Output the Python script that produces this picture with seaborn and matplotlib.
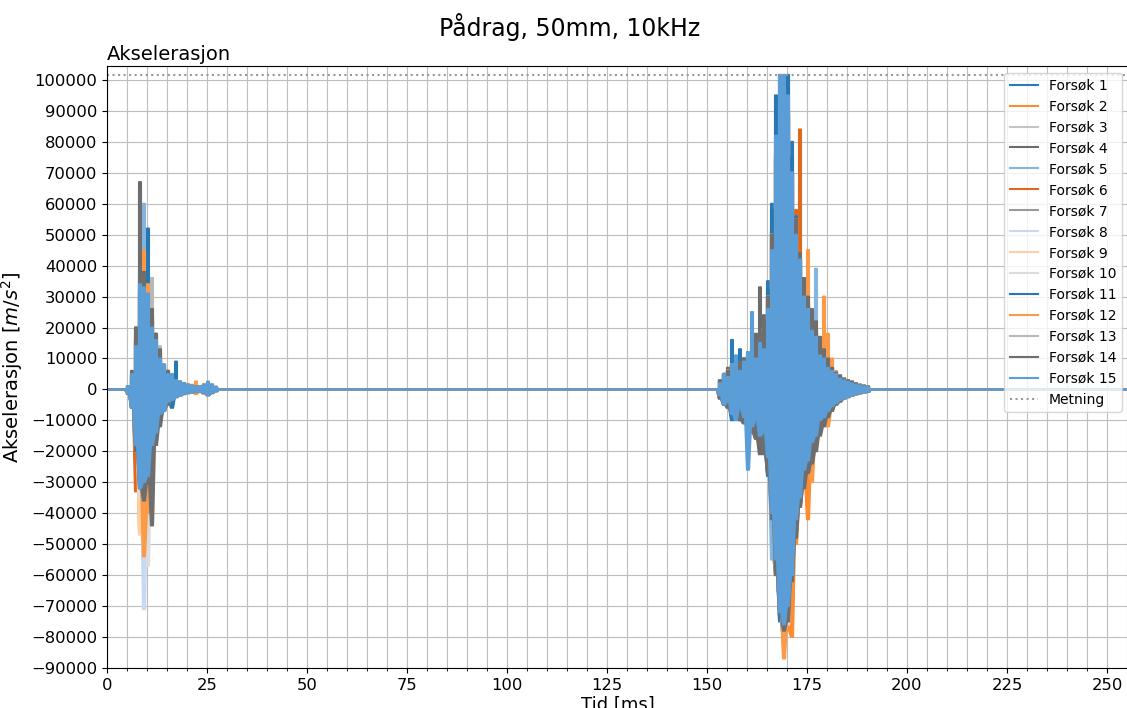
import numpy as np
import pandas as pd
import matplotlib
matplotlib.use("Agg")
import matplotlib.pyplot as plt
from matplotlib.ticker import MultipleLocator
import seaborn as sns

# Acceleration envelopes per 1 ms window, in units of 1000 m/s^2.
# "topp" = largest positive excursion, "bunn" = largest negative excursion.
tid_a = [5, 6, 7, 8, 9, 10, 11, 12, 13, 14, 15, 16, 17, 18, 19, 20, 21, 22, 23, 24, 25, 26, 27]
tid_b = list(range(153, 191))

metning = 101.6  # sensor saturation level (1000 m/s^2)

forsok_01_a_topp = [1, 5, 18, 37, 30, 26, 18, 13, 9, 7, 5, 4, 3, 2, 2, 1.5, 1, 1, 1, 1.5, 2, 1.5, 0.8]
forsok_01_a_bunn = [-1, -6, -24, -25, -30, -22, -17, -11, -8, -6, -4, -3, -2.5, -2, -1.5, -1, -1, -0.8, -0.8, -1, -1.8, -1, -0.5]
forsok_02_a_topp = [1, 4, 14, 32, 38, 30, 22, 16, 11, 8, 6, 4, 3, 2.5, 2, 1.8, 1.5, 2.5, 1, 1.5, 2.2, 1.5, 0.8]
forsok_02_a_bunn = [-1, -5, -20, -46, -34, -28, -20, -13, -9, -6, -5, -3.5, -2.5, -2, -1.5, -1.2, -1, -1.5, -0.8, -1.2, -2, -1.2, -0.6]
forsok_03_a_topp = [1, 3, 12, 28, 40, 32, 22, 15, 10, 7, 5, 4, 3, 2.5, 2, 1.5, 1.2, 1, 1, 1.5, 2, 1.5, 0.8]
forsok_03_a_bunn = [-1, -4, -15, -30, -38, -30, -20, -13, -9, -6, -4, -3, -2.5, -2, -1.5, -1.2, -1, -0.8, -0.8, -1.2, -1.8, -1.2, -0.6]
forsok_04_a_topp = [1, 6, 20, 67, 40, 30, 24, 17, 12, 8, 6, 4, 3, 2.5, 2, 1.5, 1.2, 1, 1, 1.5, 2.2, 1.5, 0.8]
forsok_04_a_bunn = [-1.5, -6, -22, -30, -36, -28, -22, -15, -10, -7, -5, -3.5, -2.5, -2, -1.5, -1.2, -1, -0.8, -0.8, -1.2, -1.8, -1.2, -0.6]
forsok_05_a_topp = [1, 4, 16, 34, 60, 30, 20, 14, 10, 7, 5, 4, 3, 2.5, 2, 1.5, 1.2, 1, 1, 1.5, 2, 1.5, 0.8]
forsok_05_a_bunn = [-1, -5, -17, -30, -40, -28, -18, -12, -8, -6, -4, -3, -2.5, -2, -1.5, -1.2, -1, -0.8, -0.8, -1.2, -1.8, -1.2, -0.6]
forsok_06_a_topp = [1, 5, 17, 33, 36, 27, 19, 13, 9, 7, 5, 4, 3, 2.5, 2, 1.5, 1.2, 1, 1, 1.5, 2, 1.5, 0.8]
forsok_06_a_bunn = [-1, -6, -33, -30, -35, -26, -18, -12, -8, -6, -4, -3, -2.5, -2, -1.5, -1.2, -1, -0.8, -0.8, -1.2, -1.8, -1.2, -0.6]
forsok_07_a_topp = [1, 4, 14, 30, 38, 30, 22, 15, 10, 7, 5, 4, 3, 2.5, 2, 1.5, 1.2, 1, 1, 1.5, 2, 1.5, 0.8]
forsok_07_a_bunn = [-1, -5, -18, -32, -56, -32, -20, -13, -8, -6, -4, -3, -2.5, -2, -1.5, -1.2, -1, -0.8, -0.8, -1.2, -1.8, -1.2, -0.6]
forsok_08_a_topp = [1, 4, 15, 30, 36, 30, 21, 14, 10, 7, 5, 4, 3, 2.5, 2, 1.5, 1.2, 1, 1, 1.5, 2, 1.5, 0.8]
forsok_08_a_bunn = [-1, -5, -18, -30, -71, -30, -20, -13, -8, -6, -4, -3, -2.5, -2, -1.5, -1.2, -1, -0.8, -0.8, -1.2, -1.8, -1.2, -0.6]
forsok_09_a_topp = [1, 4, 15, 32, 40, 30, 20, 14, 10, 7, 5, 4, 3, 2.5, 2, 1.5, 1.2, 1, 1, 1.5, 2, 1.5, 0.8]
forsok_09_a_bunn = [-1, -5, -20, -47, -40, -28, -18, -12, -8, -6, -4, -3, -2.5, -2, -1.5, -1.2, -1, -0.8, -0.8, -1.2, -1.8, -1.2, -0.6]
forsok_10_a_topp = [1, 4, 15, 32, 42, 33, 22, 15, 10, 7, 5, 4, 3, 2.5, 2, 1.5, 1.2, 1, 1, 1.5, 2, 1.5, 0.8]
forsok_10_a_bunn = [-1, -5, -18, -35, -45, -57, -22, -14, -9, -6, -4, -3, -2.5, -2, -1.5, -1.2, -1, -0.8, -0.8, -1.2, -1.8, -1.2, -0.6]
forsok_11_a_topp = [1, 5, 16, 32, 36, 52, 22, 15, 10, 7, 5, 4, 9, 2.5, 2, 1.5, 1.2, 1, 1, 1.5, 2, 1.5, 0.8]
forsok_11_a_bunn = [-1, -5, -18, -30, -34, -26, -23, -12, -8, -6, -4, -6, -2.5, -2, -1.5, -1.2, -1, -0.8, -0.8, -1.2, -1.8, -1.2, -0.6]
forsok_12_a_topp = [1, 4, 16, 34, 45, 34, 24, 18, 13, 8, 6, 4, 3, 2.5, 2, 1.5, 1.2, 2.5, 1, 1.5, 2.5, 1.5, 0.8]
forsok_12_a_bunn = [-1, -5, -18, -32, -54, -40, -22, -14, -10, -7, -5, -3, -2.5, -2, -1.5, -1.2, -1, -0.8, -0.8, -1.5, -2, -1.2, -0.6]
forsok_13_a_topp = [1, 4, 14, 30, 34, 30, 36, 18, 14, 8, 6, 4, 3, 2.5, 2, 1.5, 1.2, 1, 1, 1.5, 2, 1.5, 0.8]
forsok_13_a_bunn = [-1, -5, -17, -28, -36, -30, -24, -15, -10, -6, -4, -3, -2.5, -2, -1.5, -1.2, -1, -0.8, -0.8, -1.2, -1.8, -1.2, -0.6]
forsok_14_a_topp = [1, 5, 20, 64, 38, 30, 26, 18, 13, 8, 6, 4, 3, 2.5, 2, 1.5, 1.2, 1, 1, 1.5, 2, 1.5, 0.8]
forsok_14_a_bunn = [-1, -6, -20, -32, -36, -30, -44, -18, -12, -7, -5, -3, -2.5, -2, -1.5, -1.2, -1, -0.8, -0.8, -1.2, -1.8, -1.2, -0.6]
forsok_15_a_topp = [1, 5, 14, 34, 33, 31, 20, 16, 10, 8, 5, 5, 3, 2.5, 2, 1.5, 1.2, 1, 1, 1.5, 2.5, 1.5, 0.8]
forsok_15_a_bunn = [-1, -6, -18, -32, -30, -28, -18, -14, -8, -7, -4, -3.5, -2.5, -2, -1.5, -1.2, -1, -0.8, -0.8, -1.2, -2, -1.2, -0.6]

forsok_01_b_topp = [3, 5, 6, 16, 9, 8, 9, 10, 11, 13, 15, 20, 35, 60, 90, 101.6, 101.6, 101.6, 80, 55, 40, 32, 26, 21, 17, 13, 10, 8, 6, 5, 4, 3.5, 3, 2.5, 2, 1.5, 1.2, 1]
forsok_01_b_bunn = [-3, -4, -6, -10, -8, -7, -9, -10, -11, -12, -14, -17, -28, -45, -60, -75, -82, -70, -55, -42, -33, -27, -22, -18, -15, -12, -10, -8, -6, -5, -4, -3, -2.5, -2, -1.6, -1.3, -1, -0.8]
forsok_02_b_topp = [3, 4, 6, 7, 8, 8, 10, 11, 12, 14, 16, 22, 30, 55, 80, 90, 88, 89, 65, 55, 45, 34, 28, 22, 18, 14, 11, 9, 7, 5.5, 4.5, 3.5, 3, 2.5, 2, 1.5, 1.2, 1]
forsok_02_b_bunn = [-3, -4, -5, -7, -8, -9, -9, -10, -12, -14, -15, -18, -25, -40, -60, -72, -75, -78, -80, -50, -38, -30, -42, -22, -17, -13, -10, -8, -6, -5, -4, -3, -2.5, -2, -1.6, -1.3, -1, -0.8]
forsok_03_b_topp = [2, 4, 6, 7, 8, 8, 9, 10, 11, 13, 15, 19, 28, 48, 72, 92, 96, 88, 68, 52, 40, 32, 26, 21, 17, 13, 10, 8, 6, 5, 4, 3.5, 3, 2.5, 2, 1.5, 1.2, 1]
forsok_03_b_bunn = [-2, -4, -5, -7, -8, -8, -9, -10, -11, -13, -14, -17, -24, -38, -55, -70, -74, -72, -58, -44, -35, -28, -23, -19, -15, -12, -10, -8, -6, -5, -4, -3, -2.5, -2, -1.6, -1.3, -1, -0.8]
forsok_04_b_topp = [3, 5, 7, 8, 9, 9, 10, 12, 14, 18, 33, 24, 32, 52, 78, 92, 96, 90, 70, 55, 42, 34, 27, 24, 19, 15, 11, 9, 7, 5.5, 4.5, 3.5, 3, 2.5, 2, 1.5, 1.2, 1]
forsok_04_b_bunn = [-3, -5, -6, -7, -9, -10, -11, -12, -14, -16, -21, -20, -27, -42, -60, -71, -76, -72, -58, -45, -35, -30, -25, -21, -17, -13, -10, -8, -6, -5, -4, -3, -2.5, -2, -1.6, -1.3, -1, -0.8]
forsok_05_b_topp = [3, 4, 6, 7, 8, 8, 9, 10, 12, 14, 15, 19, 28, 48, 74, 94, 98, 88, 68, 53, 41, 32, 27, 22, 39, 14, 11, 9, 7, 5.5, 4.5, 3.5, 3, 2.5, 2, 1.5, 1.2, 1]
forsok_05_b_bunn = [-3, -4, -6, -7, -8, -8, -9, -10, -12, -13, -15, -18, -26, -55, -58, -70, -76, -74, -58, -45, -35, -28, -23, -19, -15, -12, -10, -8, -6, -5, -4, -3, -2.5, -2, -1.6, -1.3, -1, -0.8]
forsok_06_b_topp = [3, 5, 6, 8, 9, 8, 9, 10, 12, 14, 16, 20, 29, 50, 74, 94, 98, 88, 70, 58, 84, 36, 30, 24, 19, 15, 12, 9, 7, 5.5, 4.5, 3.5, 3, 2.5, 2, 1.5, 1.2, 1]
forsok_06_b_bunn = [-3, -4, -6, -7, -8, -8, -9, -10, -12, -13, -15, -18, -25, -40, -58, -72, -77, -74, -60, -46, -37, -30, -25, -21, -17, -13, -10, -8, -6, -5, -4, -3, -2.5, -2, -1.6, -1.3, -1, -0.8]
forsok_07_b_topp = [3, 5, 6, 8, 9, 8, 9, 10, 12, 14, 16, 20, 30, 50, 76, 94, 98, 90, 70, 55, 42, 33, 27, 22, 18, 14, 11, 9, 7, 5.5, 4.5, 3.5, 3, 2.5, 2, 1.5, 1.2, 1]
forsok_07_b_bunn = [-3, -4, -6, -7, -8, -8, -9, -10, -12, -13, -15, -18, -25, -40, -58, -72, -78, -75, -60, -46, -36, -29, -24, -20, -16, -12, -10, -8, -6, -5, -4, -3, -2.5, -2, -1.6, -1.3, -1, -0.8]
forsok_08_b_topp = [3, 4, 6, 7, 8, 8, 9, 10, 12, 14, 16, 20, 30, 50, 75, 90, 95, 88, 70, 54, 42, 33, 27, 22, 18, 14, 11, 9, 7, 5.5, 4.5, 3.5, 3, 2.5, 2, 1.5, 1.2, 1]
forsok_08_b_bunn = [-3, -4, -6, -7, -8, -8, -9, -10, -12, -13, -15, -18, -25, -40, -57, -71, -77, -74, -59, -46, -36, -29, -24, -20, -16, -12, -10, -8, -6, -5, -4, -3, -2.5, -2, -1.6, -1.3, -1, -0.8]
forsok_09_b_topp = [3, 5, 6, 8, 9, 8, 9, 10, 12, 14, 16, 20, 30, 50, 75, 92, 96, 90, 72, 56, 43, 34, 28, 22, 18, 14, 11, 9, 7, 5.5, 4.5, 3.5, 3, 2.5, 2, 1.5, 1.2, 1]
forsok_09_b_bunn = [-3, -4, -6, -7, -8, -8, -9, -10, -12, -13, -15, -18, -25, -40, -58, -72, -78, -75, -60, -46, -36, -29, -24, -20, -16, -12, -10, -8, -6, -5, -4, -3, -2.5, -2, -1.6, -1.3, -1, -0.8]
forsok_10_b_topp = [3, 5, 6, 8, 9, 8, 9, 10, 12, 14, 16, 20, 30, 50, 75, 95, 99, 90, 70, 55, 42, 33, 27, 22, 18, 14, 11, 9, 7, 5.5, 4.5, 3.5, 3, 2.5, 2, 1.5, 1.2, 1]
forsok_10_b_bunn = [-3, -4, -6, -7, -8, -8, -9, -10, -12, -13, -15, -18, -25, -40, -58, -72, -79, -76, -60, -46, -36, -29, -24, -20, -16, -12, -10, -8, -6, -5, -4, -3, -2.5, -2, -1.6, -1.3, -1, -0.8]
forsok_11_b_topp = [3, 5, 6, 8, 9, 13, 9, 10, 12, 14, 16, 20, 32, 58, 95, 101.6, 101.6, 101.6, 75, 56, 42, 33, 27, 22, 18, 14, 11, 9, 7, 5.5, 4.5, 3.5, 3, 2.5, 2, 1.5, 1.2, 1]
forsok_11_b_bunn = [-3, -4, -6, -7, -8, -8, -9, -10, -12, -13, -15, -18, -25, -40, -58, -73, -76, -72, -60, -46, -36, -29, -24, -20, -16, -12, -10, -8, -6, -5, -4, -3, -2.5, -2, -1.6, -1.3, -1, -0.8]
forsok_12_b_topp = [3, 5, 6, 8, 9, 8, 9, 10, 12, 14, 16, 20, 30, 50, 75, 93, 97, 90, 70, 55, 42, 33, 45, 22, 18, 14, 30, 18, 10, 6, 4.5, 3.5, 3, 2.5, 2, 1.5, 1.2, 1]
forsok_12_b_bunn = [-3, -4, -6, -7, -8, -8, -9, -10, -12, -13, -15, -18, -25, -40, -58, -72, -87, -75, -60, -46, -36, -29, -24, -30, -16, -13, -11, -12, -7, -5, -4, -3, -2.5, -2, -1.6, -1.3, -1, -0.8]
forsok_13_b_topp = [3, 5, 6, 8, 9, 8, 9, 10, 12, 14, 16, 20, 30, 50, 75, 92, 97, 89, 70, 55, 42, 33, 27, 22, 18, 14, 11, 9, 7, 5.5, 4.5, 3.5, 3, 2.5, 2, 1.5, 1.2, 1]
forsok_13_b_bunn = [-3, -4, -6, -7, -8, -8, -9, -10, -12, -13, -15, -18, -25, -40, -58, -72, -77, -74, -60, -46, -36, -29, -24, -20, -16, -12, -10, -8, -6, -5, -4, -3, -2.5, -2, -1.6, -1.3, -1, -0.8]
forsok_14_b_topp = [3, 5, 6, 8, 9, 9, 10, 11, 13, 15, 18, 22, 30, 50, 75, 92, 96, 88, 70, 55, 44, 36, 30, 26, 22, 17, 13, 10, 7, 5.5, 4.5, 3.5, 3, 2.5, 2, 1.5, 1.2, 1]
forsok_14_b_bunn = [-3, -5, -6, -8, -9, -10, -11, -12, -14, -16, -18, -21, -27, -42, -60, -73, -78, -75, -62, -48, -38, -32, -27, -24, -20, -15, -12, -9, -7, -5, -4, -3, -2.5, -2, -1.6, -1.3, -1, -0.8]
forsok_15_b_topp = [2, 5, 4, 8, 11, 6, 9, 12, 25, 10, 15, 13, 26, 45, 82, 101.6, 101.6, 95, 70, 50, 42, 30, 26, 19, 17, 11, 10, 7, 6, 5, 3.5, 3, 2.5, 2, 1.6, 1.3, 1, 0.8]
forsok_15_b_bunn = [-2, -5, -4, -8, -10, -6, -9, -26, -12, -10, -15, -14, -22, -40, -55, -72, -76, -70, -60, -42, -35, -26, -23, -17, -15, -10, -9, -7, -5.5, -4.5, -3.5, -3, -2.5, -2, -1.5, -1.2, -1, -0.7]

navn = [f"Forsøk {i}" for i in range(1, 16)]
farger = ["#2b7bba", "#ff8c2e", "#c4c4c4", "#6b6b6b", "#82b6e0", "#e0681c", "#9a9a9a",
          "#c5daf0", "#fdd0a2", "#dcdcdc", "#2777b3", "#fd9a48", "#b8b8b8", "#6e6e6e", "#5b9dd6"]

topp_a = [forsok_01_a_topp, forsok_02_a_topp, forsok_03_a_topp, forsok_04_a_topp, forsok_05_a_topp,
          forsok_06_a_topp, forsok_07_a_topp, forsok_08_a_topp, forsok_09_a_topp, forsok_10_a_topp,
          forsok_11_a_topp, forsok_12_a_topp, forsok_13_a_topp, forsok_14_a_topp, forsok_15_a_topp]
bunn_a = [forsok_01_a_bunn, forsok_02_a_bunn, forsok_03_a_bunn, forsok_04_a_bunn, forsok_05_a_bunn,
          forsok_06_a_bunn, forsok_07_a_bunn, forsok_08_a_bunn, forsok_09_a_bunn, forsok_10_a_bunn,
          forsok_11_a_bunn, forsok_12_a_bunn, forsok_13_a_bunn, forsok_14_a_bunn, forsok_15_a_bunn]
topp_b = [forsok_01_b_topp, forsok_02_b_topp, forsok_03_b_topp, forsok_04_b_topp, forsok_05_b_topp,
          forsok_06_b_topp, forsok_07_b_topp, forsok_08_b_topp, forsok_09_b_topp, forsok_10_b_topp,
          forsok_11_b_topp, forsok_12_b_topp, forsok_13_b_topp, forsok_14_b_topp, forsok_15_b_topp]
bunn_b = [forsok_01_b_bunn, forsok_02_b_bunn, forsok_03_b_bunn, forsok_04_b_bunn, forsok_05_b_bunn,
          forsok_06_b_bunn, forsok_07_b_bunn, forsok_08_b_bunn, forsok_09_b_bunn, forsok_10_b_bunn,
          forsok_11_b_bunn, forsok_12_b_bunn, forsok_13_b_bunn, forsok_14_b_bunn, forsok_15_b_bunn]

T_SLUTT = 256.0


def minmax_spor(tider, topp, bunn):
    """Min/max trace: vertical strokes from trough to peak for each 1 ms window."""
    t, a = [], []
    for ti, hi, lo in zip(tider, topp, bunn):
        for tt in (ti, ti + 0.5):
            t += [tt, tt]
        a += [lo * 1000.0, hi * 1000.0, hi * 1000.0, lo * 1000.0]
    return t, a


fig = plt.figure(figsize=(11.27, 7.08), dpi=100)
ax = fig.add_axes([107 / 1127, 40 / 708, 1022 / 1127, 602 / 708])

for i in range(15):
    ta, aa = minmax_spor(tid_a, topp_a[i], bunn_a[i])
    tb, ab = minmax_spor(tid_b, topp_b[i], bunn_b[i])
    t = [0.0, tid_a[0] - 0.5] + ta + [tid_a[-1] + 1.0, tid_b[0] - 0.5] + tb + [tid_b[-1] + 1.0, T_SLUTT]
    a = [0.0, 0.0] + aa + [0.0, 0.0] + ab + [0.0, 0.0]
    df = pd.DataFrame({"Tid": t, "Akselerasjon": a})
    sns.lineplot(data=df, x="Tid", y="Akselerasjon", ax=ax, color=farger[i], lw=1.5,
                 estimator=None, sort=False, label=navn[i], legend=False)

ax.axhline(metning * 1000.0, color="#999999", ls=":", lw=1.5, label="Metning")

ax.set_xlim(0, 255.5)
ax.set_ylim(-90000, 104500)
ax.xaxis.set_major_locator(MultipleLocator(25))
ax.xaxis.set_minor_locator(MultipleLocator(5))
ax.yaxis.set_major_locator(MultipleLocator(10000))
ax.grid(which="both", color="#bdbdbd", lw=0.8)
ax.set_axisbelow(True)
ax.tick_params(labelsize=11.8)

ax.set_xlabel("Tid [ms]", fontsize=13, labelpad=2)
ax.set_ylabel("Akselerasjon [$m/s^2$]", fontsize=14)
ax.set_title("Akselerasjon", loc="left", fontsize=14, pad=4)
fig.suptitle("Pådrag, 50mm, 10kHz", fontsize=17, x=570 / 1127, y=1 - 27 / 708, va="center")

ax.legend(loc="upper right", fontsize=10)

fig.savefig("out.png", dpi=100)
